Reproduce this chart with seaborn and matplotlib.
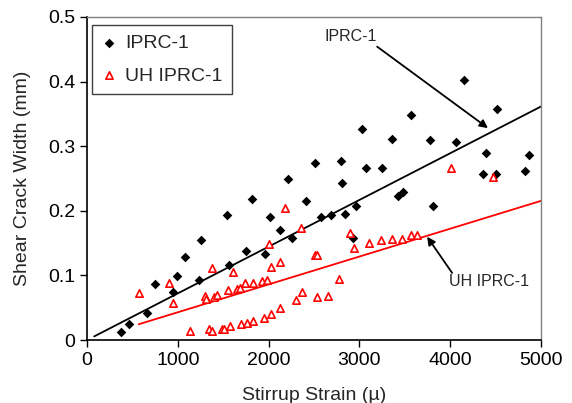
import numpy as np
import pandas as pd
import matplotlib
matplotlib.use("Agg")
import matplotlib.pyplot as plt
import seaborn as sns

# IPRC-1 (black diamonds)
iprc_strain = [380, 460, 660, 750, 945, 990, 1080, 1230, 1255, 1540, 1560, 1750,
               1820, 1960, 2015, 2120, 2215, 2255, 2410, 2510, 2575, 2685, 2795,
               2810, 2840, 2930, 2960, 3030, 3070, 3250, 3360, 3425, 3480, 3570,
               3780, 3810, 4065, 4150, 4360, 4395, 4505, 4515, 4825, 4870]
iprc_width = [0.013, 0.025, 0.042, 0.087, 0.074, 0.099, 0.128, 0.093, 0.155, 0.193,
              0.116, 0.138, 0.218, 0.133, 0.190, 0.171, 0.249, 0.158, 0.215, 0.274,
              0.190, 0.193, 0.277, 0.243, 0.195, 0.158, 0.207, 0.326, 0.266, 0.266,
              0.311, 0.223, 0.229, 0.348, 0.309, 0.207, 0.306, 0.402, 0.257, 0.289,
              0.257, 0.358, 0.262, 0.287]

# UH IPRC-1 (open red triangles)
uh_strain = [570, 905, 945, 1135, 1300, 1310, 1340, 1375, 1375, 1400, 1430, 1490,
             1510, 1550, 1575, 1605, 1650, 1685, 1700, 1740, 1765, 1825, 1825, 1925,
             1950, 1980, 2005, 2025, 2025, 2125, 2125, 2180, 2300, 2355, 2370, 2510,
             2530, 2535, 2655, 2775, 2895, 2940, 3105, 3235, 3360, 3470, 3570, 3630,
             4010, 4470]
uh_width = [0.073, 0.088, 0.057, 0.014, 0.068, 0.064, 0.017, 0.014, 0.111, 0.067,
            0.070, 0.017, 0.017, 0.077, 0.022, 0.105, 0.079, 0.080, 0.025, 0.088,
            0.027, 0.089, 0.029, 0.092, 0.034, 0.093, 0.148, 0.113, 0.040, 0.121,
            0.049, 0.205, 0.062, 0.174, 0.074, 0.131, 0.131, 0.067, 0.069, 0.094,
            0.165, 0.143, 0.150, 0.155, 0.157, 0.157, 0.163, 0.163, 0.266, 0.252]

# linear trend lines: slope, intercept, x range
iprc_fit = (7.23e-5, 0.0, 80, 5000)
uh_fit = (4.31e-5, 0.0, 570, 5000)

sns.set_style("ticks")
plt.rcParams["font.family"] = ["Liberation Sans", "DejaVu Sans"]

fig, ax = plt.subplots(figsize=(5.72, 4.03), dpi=100)
fig.subplots_adjust(left=0.152, right=0.946, top=0.958, bottom=0.156)

df_a = pd.DataFrame({"strain": iprc_strain, "width": iprc_width})
df_b = pd.DataFrame({"strain": uh_strain, "width": uh_width})

sns.scatterplot(data=df_a, x="strain", y="width", marker="D", color="black",
                s=24, linewidth=0, ax=ax, label="IPRC-1", zorder=3)
sns.scatterplot(data=df_b, x="strain", y="width", marker="^", facecolor="white",
                edgecolor="red", s=28, linewidth=1.2, ax=ax, label="UH IPRC-1", zorder=3)

for (m, b, x0, x1), col in [(iprc_fit, "black"), (uh_fit, "red")]:
    xs = np.array([x0, x1])
    sns.lineplot(x=xs, y=m * xs + b, color=col, lw=1.3, ax=ax, zorder=2)

# annotations
ax.text(2620, 0.469, "IPRC-1", fontsize=11.5, va="center", ha="left")
ax.annotate("", xy=(4415, 0.328), xytext=(3195, 0.454),
            arrowprops=dict(arrowstyle="-|>", color="black", lw=1.3, mutation_scale=12,
                            shrinkA=0, shrinkB=0))
ax.text(3985, 0.090, "UH IPRC-1", fontsize=11.5, va="center", ha="left")
ax.annotate("", xy=(3745, 0.160), xytext=(4020, 0.104),
            arrowprops=dict(arrowstyle="-|>", color="black", lw=1.3, mutation_scale=12,
                            shrinkA=0, shrinkB=0))

ax.set_xlim(0, 5000)
ax.set_ylim(0, 0.5)
ax.set_xticks(range(0, 5001, 1000))
ax.set_yticks(np.arange(0, 0.51, 0.1))
ax.yaxis.set_major_formatter(plt.FuncFormatter(lambda v, p: f"{v:g}"))
ax.tick_params(direction="out", length=5, width=1, labelsize=14, colors="black")
ax.set_xlabel("Stirrup Strain (\u00b5)", fontsize=14, labelpad=13)
ax.set_ylabel("Shear Crack Width (mm)", fontsize=14, labelpad=12)

for s in ["left", "bottom"]:
    ax.spines[s].set_color("black")
    ax.spines[s].set_linewidth(1.2)
for s in ["top", "right"]:
    ax.spines[s].set_visible(True)
    ax.spines[s].set_color("#808080")
    ax.spines[s].set_linewidth(1.0)

leg = ax.legend(loc="upper left", bbox_to_anchor=(0.011, 0.975), borderaxespad=0,
                fontsize=14, frameon=True, fancybox=False, edgecolor="#404040",
                framealpha=1, handlelength=0.8, handletextpad=0.4, labelspacing=0.75,
                borderpad=0.5, markerscale=1.0)
leg.get_frame().set_linewidth(1.0)

fig.savefig("out.png", dpi=100)
